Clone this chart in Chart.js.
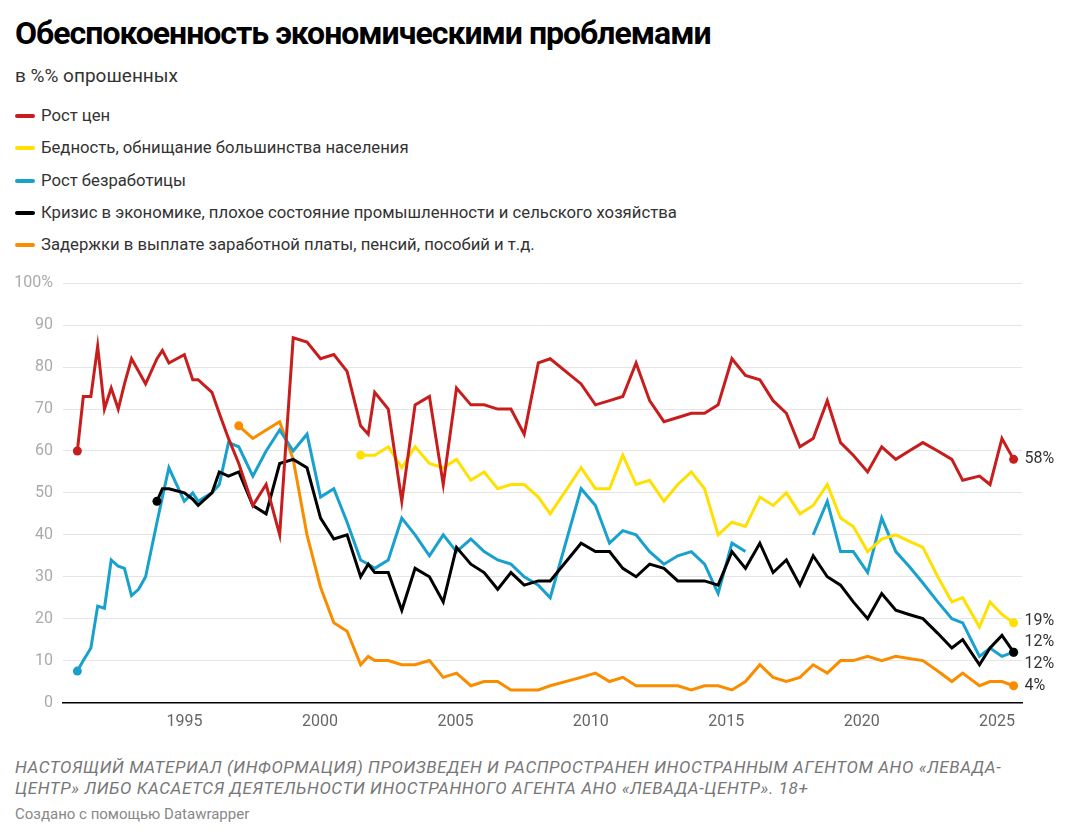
<!DOCTYPE html>
<html lang="ru">
<head>
<meta charset="utf-8">
<title>Обеспокоенность экономическими проблемами</title>
<script src="https://cdn.jsdelivr.net/npm/chart.js@4.4.1/dist/chart.umd.min.js"></script>
<style>
  html, body { margin: 0; padding: 0; background: #fff; }
  body { width: 1069px; height: 838px; position: relative; overflow: hidden; font-family: Roboto, "Noto Sans", sans-serif; color: #333; }
  .title { position: absolute; left: 15px; top: 15px; margin: 0; font-size: 32px; line-height: 36px; font-weight: 700; letter-spacing: -1px; color: #000; white-space: nowrap; }
  .subtitle { position: absolute; left: 15px; top: 65px; font-size: 19px; line-height: 22px; white-space: nowrap; }
  .legend-item { position: absolute; left: 15px; font-size: 16.7px; line-height: 20px; white-space: nowrap; display: flex; align-items: center; }
  .legend-item i { display: inline-block; width: 20px; height: 4px; border-radius: 2px; margin-right: 6px; }
  .footer { position: absolute; left: 15px; top: 757px; font-size: 17px; line-height: 21px; font-style: italic; letter-spacing: 0.6px; color: #777; white-space: nowrap; }
  .credit { position: absolute; left: 15px; top: 804px; font-size: 15px; line-height: 20px; color: #888; white-space: nowrap; }
  #wrap { position: absolute; left: 0; top: 260px; width: 1069px; height: 480px; }
</style>
</head>
<body>
<div class="title">Обеспокоенность экономическими проблемами</div>
<div class="subtitle">в %% опрошенных</div>
<div id="legend"></div>
<div id="wrap"><canvas id="chart" width="1069" height="480"></canvas></div>
<div class="footer">НАСТОЯЩИЙ МАТЕРИАЛ (ИНФОРМАЦИЯ) ПРОИЗВЕДЕН И РАСПРОСТРАНЕН ИНОСТРАННЫМ АГЕНТОМ АНО «ЛЕВАДА-<br>ЦЕНТР» ЛИБО КАСАЕТСЯ ДЕЯТЕЛЬНОСТИ ИНОСТРАННОГО АГЕНТА АНО «ЛЕВАДА-ЦЕНТР». 18+</div>
<div class="credit">Создано с помощью Datawrapper</div>
<script>
// survey dates as decimal years
const dates = [1991.04, 1991.26, 1991.54, 1991.79, 1992.04, 1992.29, 1992.55, 1992.78, 1993.04, 1993.30,
  1993.56, 1993.98, 1994.18, 1994.42, 1994.99, 1995.30, 1995.50, 1996.01, 1996.28, 1996.62,
  1997.00, 1997.52, 1998.01, 1998.51, 1999.01, 1999.52, 2000.02, 2000.51, 2001.00, 2001.50,
  2001.78, 2002.02, 2002.52, 2003.02, 2003.51, 2004.04, 2004.55, 2005.04, 2005.57, 2006.06,
  2006.56, 2007.05, 2007.54, 2008.06, 2008.50, 2009.64, 2010.17, 2010.69, 2011.18, 2011.67,
  2012.17, 2012.70, 2013.21, 2013.71, 2014.20, 2014.70, 2015.21, 2015.71, 2016.24, 2016.73,
  2017.22, 2017.72, 2018.21, 2018.73, 2019.22, 2019.69, 2020.22, 2020.74, 2021.26, 2021.75,
  2022.26, 2022.81, 2023.33, 2023.73, 2024.35, 2024.74, 2025.18, 2025.61]

const prices = [60, 73, 73, 85, 70, 75, 70, 76, 82, 79,
  76, 82, 84, 81, 83, 77, 77, 74, 69, 63,
  57, 47, 52, 40, 87, 86, 82, 83, 79, 66,
  64, 74, 70, 48, 71, 73, 52, 75, 71, 71,
  70, 70, 64, 81, 82, 76, 71, 72, 73, 81,
  72, 67, 68, 69, 69, 71, 82, 78, 77, 72,
  69, 61, 63, 72, 62, 59, 55, 61, 58, 60,
  62, 60, 58, 53, 54, 52, 63, 58]

const poverty = [null, null, null, null, null, null, null, null, null, null,
  null, null, null, null, null, null, null, null, null, null,
  null, null, null, null, null, null, null, null, null, 59,
  59, 59, 61, 56, 61, 57, 56, 58, 53, 55,
  51, 52, 52, 49, 45, 56, 51, 51, 59, 52,
  53, 48, 52, 55, 51, 40, 43, 42, 49, 47,
  50, 45, 47, 52, 44, 42, 36, 39, 40, 38.5,
  37, 30, 24, 25, 18, 24, 21, 19]

const unemployment = [7.5, 10, 13, 23, 22.5, 34, 32.5, 32, 25.5, 27,
  30, 43, 49, 56, 48, 50, 48, 50, 52, 62,
  61, 54, 60, 65, 60, 64, 49, 51, 43, 34,
  33, 32, 34, 44, 40, 35, 40, 36, 39, 36,
  34, 33, 30, 28, 25, 51, 47, 38, 41, 40,
  36, 33, 35, 36, 33, 26, 38, 36, null, null,
  null, null, 40, 48, 36, 36, 31, 44, 36, 32.5,
  28.5, 24, 20, 19, 11, 13, 11, 12]

const crisis = [null, null, null, null, null, null, null, null, null, null,
  null, 48, 51, 51, 50, 48.5, 47, 50, 55, 54,
  55, 47, 45, 57, 58, 56, 44, 39, 40, 30,
  33, 31, 31, 22, 32, 30, 24, 37, 33, 31,
  27, 31, 28, 29, 29, 38, 36, 36, 32, 30,
  33, 32, 29, 29, 29, 28, 36, 32, 38, 31,
  34, 28, 35, 30, 28, 24, 20, 26, 22, 21,
  20, 16.5, 13, 15, 9, 13, 16, 12]

const wageDelays = [null, null, null, null, null, null, null, null, null, null,
  null, null, null, null, null, null, null, null, null, null,
  66, 63, 65, 67, 58, 40, 27.5, 19, 17, 9,
  11, 10, 10, 9, 9, 10, 6, 7, 4, 5,
  5, 3, 3, 3, 4, 6, 7, 5, 6, 4,
  4, 4, 4, 3, 4, 4, 3, 5, 9, 6,
  5, 6, 9, 7, 10, 10, 11, 10, 11, 10.5,
  10, 7.5, 5, 7, 4, 5, 5, 4]

const names = ['Рост цен', 'Бедность, обнищание большинства населения', 'Рост безработицы',
  'Кризис в экономике, плохое состояние промышленности и сельского хозяйства',
  'Задержки в выплате заработной платы, пенсий, пособий и т.д.']
const colors = ['#c71e1d', '#ffe000', '#18a1cd', '#000000', '#fa8c00']
const drawOrder = [0, 1, 3, 2, 4]
const yearTicks = [1995, 2000, 2005, 2010, 2015, 2020, 2025]
const valueTicks = [0, 10, 20, 30, 40, 50, 60, 70, 80, 90, 100]

const allSeries = [prices, poverty, unemployment, crisis, wageDelays]

// html legend, one row per series
const legend = document.getElementById('legend')
names.forEach((name, i) => {
    const row = document.createElement('div')
    row.className = 'legend-item'
    row.style.top = (106 + i * 32.3) + 'px'
    row.innerHTML = '<i style="background:' + colors[i] + '"></i>' + name
    legend.appendChild(row)
})

function toPoints(values) {
    const pts = dates.map((x, i) => ({ x: x, y: values[i] }))
    const first = pts.findIndex(p => p.y !== null)
    return pts.slice(first)
}

// percentages next to the last point of each line
const endLabels = {
    id: 'endLabels',
    afterDatasetsDraw(chart) {
        const ctx = chart.ctx
        const items = []
        chart.data.datasets.forEach((ds, i) => {
            const meta = chart.getDatasetMeta(i)
            const last = meta.data[meta.data.length - 1]
            const val = ds.data[ds.data.length - 1].y
            items.push({ x: last.x, y: last.y, text: Math.round(val) + '%' })
        })
        items.sort((a, b) => a.y - b.y)
        for (let k = 0; k < 30; k++) {
            for (let j = 1; j < items.length; j++) {
                const gap = items[j].y - items[j - 1].y
                if (gap < 21.5) {
                    const d = (21.5 - gap) / 2
                    items[j - 1].y -= d
                    items[j].y += d
                }
            }
        }
        ctx.save()
        ctx.font = '16px Roboto'
        ctx.fillStyle = '#333'
        ctx.textBaseline = 'middle'
        items.forEach(it => ctx.fillText(it.text, it.x + 11, it.y))
        ctx.restore()
    }
}

const chart = new Chart(document.getElementById('chart'), {
    type: 'line',
    data: {
        datasets: allSeries.map((values, i) => ({
            label: names[i],
            data: toPoints(values),
            borderColor: colors[i],
            backgroundColor: colors[i],
            borderWidth: 3,
            order: drawOrder[i],
            tension: 0,
            pointRadius: ctx => (ctx.dataIndex === 0 || ctx.dataIndex === ctx.dataset.data.length - 1) ? 4.5 : 0,
            pointBorderWidth: 0,
            pointHoverRadius: 0
        }))
    },
    options: {
        responsive: false,
        animation: false,
        spanGaps: false,
        layout: { padding: { top: 23.3, right: 47, left: 0, bottom: 0 } },
        plugins: { legend: { display: false }, tooltip: { enabled: false } },
        scales: {
            x: {
                type: 'linear',
                min: 1990.51,
                max: 2025.92,
                afterBuildTicks: scale => { scale.ticks = yearTicks.map(v => ({ value: v })) },
                afterFit: scale => { scale.height = 37.5 },
                grid: { display: false, drawTicks: false },
                border: { display: true, color: '#000', width: 1.5 },
                ticks: {
                    padding: 10,
                    color: '#666',
                    font: { family: 'Roboto', size: 16 },
                    maxRotation: 0,
                    callback: v => String(v)
                }
            },
            y: {
                min: 0,
                max: 100,
                afterBuildTicks: scale => { scale.ticks = valueTicks.map(v => ({ value: v })) },
                afterFit: scale => { scale.width = 63 },
                grid: { color: '#e5e5e5', lineWidth: 1, drawTicks: false },
                border: { display: false },
                ticks: {
                    padding: 10,
                    color: '#aaa',
                    font: { family: 'Roboto', size: 16 },
                    callback: v => v === 100 ? '100%' : String(v)
                }
            }
        }
    },
    plugins: [endLabels]
})
</script>
</body>
</html>
